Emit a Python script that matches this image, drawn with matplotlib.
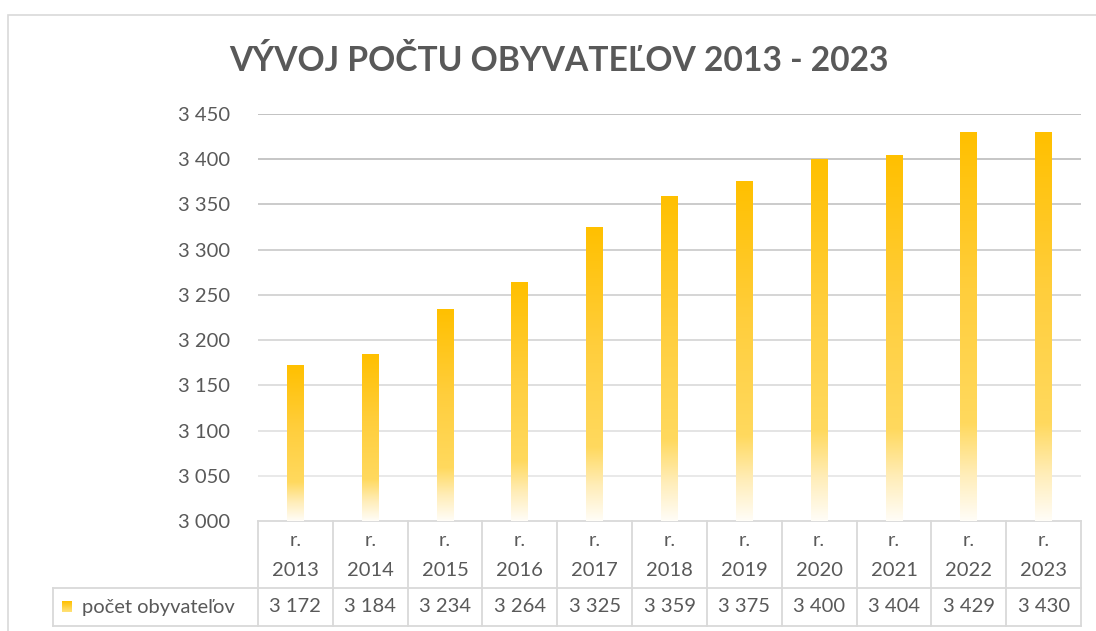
import matplotlib
matplotlib.use('Agg')
import matplotlib.pyplot as plt
import numpy as np
from matplotlib.colors import LinearSegmentedColormap, to_rgb
from matplotlib.transforms import blended_transform_factory
from matplotlib.patches import Rectangle

# data
years = ['2013', '2014', '2015', '2016', '2017', '2018', '2019', '2020', '2021', '2022', '2023']
population = [3172, 3184, 3234, 3264, 3325, 3359, 3375, 3400, 3404, 3429, 3430]
y_ticks = [3000, 3050, 3100, 3150, 3200, 3250, 3300, 3350, 3400, 3450]
series_name = 'počet obyvateľov'
title = 'VÝVOJ POČTU OBYVATEĽOV 2013 - 2023'

plt.rcParams['font.family'] = ['Lato', 'DejaVu Sans']
txt_color = '#595959'
line_color = '#D9D9D9'
fs = 14.5

def fmt(v):
    # thousands separated by a space, as in the source
    return '{:,}'.format(v).replace(',', ' ')

# bar fill: gold on top fading to white at the bottom
gold = LinearSegmentedColormap.from_list('gold', [
    (0.0, '#FFFDF7'), (0.12, '#FFEDB8'), (0.25, '#FFD95E'),
    (0.6, '#FFCE3C'), (1.0, '#FFC000')])
grad = np.linspace(0, 1, 256).reshape(-1, 1)

fig = plt.figure(figsize=(10.96, 6.31), dpi=100)
W, H = 1096, 631

# chart area border
fig.patches.append(Rectangle((8 / W, -0.1), 1.2, 1.1 - 15 / H, transform=fig.transFigure,
                             fill=False, edgecolor=line_color, lw=1.2))

ax = fig.add_axes([258 / W, (H - 521) / H, 823 / W, 407 / H])
x = np.arange(len(years))
bw = 0.225
for xi, v in zip(x, population):
    ax.imshow(grad, extent=(xi - bw / 2, xi + bw / 2, y_ticks[0], v), origin='lower',
              aspect='auto', cmap=gold, zorder=3, interpolation='bilinear')

# gridlines, darker at the top, lighter at the bottom
c_top, c_bot = np.array(to_rgb('#BDBDBD')), np.array(to_rgb('#ECECEC'))
for t in y_ticks[1:]:
    f = (t - y_ticks[0]) / (y_ticks[-1] - y_ticks[0])
    ax.axhline(t, color=c_bot + (c_top - c_bot) * f, lw=1.3, zorder=1)

ax.set_xlim(-0.5, len(years) - 0.5)
ax.set_ylim(y_ticks[0], y_ticks[-1])
ax.set_yticks(y_ticks)
ax.set_yticklabels([fmt(t) for t in y_ticks])
ax.tick_params(axis='y', length=0, pad=20, labelsize=fs, labelcolor=txt_color)
ax.set_xticks([])
for s in ax.spines.values():
    s.set_visible(False)

fig.text(559 / W, 1 - 61 / H, title, ha='center', va='center', fontsize=24.2,
         fontweight='bold', color=txt_color)

# data table under the plot
tr = blended_transform_factory(ax.transData, ax.transAxes)
r1 = -(588 - 521) / 407
r2 = -(626 - 521) / 407
left = -0.5 - (258 - 53) / (823 / len(years))
kw = dict(color=line_color, lw=1.3, transform=tr, clip_on=False)
ax.plot([-0.5, len(years) - 0.5], [0, 0], **kw)
ax.plot([left, len(years) - 0.5], [r1, r1], **kw)
ax.plot([left, len(years) - 0.5], [r2, r2], **kw)
ax.plot([left, left], [r1, r2], **kw)
for b in np.arange(len(years) + 1) - 0.5:
    ax.plot([b, b], [0, r2], **kw)
for xi, yr, v in zip(x, years, population):
    ax.text(xi, -(540 - 521) / 407, 'r.', ha='center', va='center', fontsize=fs,
            color=txt_color, transform=tr)
    ax.text(xi, -(570 - 521) / 407, yr, ha='center', va='center', fontsize=fs,
            color=txt_color, transform=tr)
    ax.text(xi, -(607 - 521) / 407, fmt(v), ha='center', va='center', fontsize=fs,
            color=txt_color, transform=tr)

# legend key in the table
kax = fig.add_axes([62 / W, (H - 612) / H, 10 / W, 11 / H])
kax.imshow(grad, origin='lower', aspect='auto', cmap=LinearSegmentedColormap.from_list(
    'k', ['#FFE27A', '#FFC000']))
kax.axis('off')
fig.text(82 / W, 1 - 607 / H, series_name, ha='left', va='center', fontsize=fs,
         color=txt_color)

fig.savefig('out.png', dpi=100, facecolor='white')
